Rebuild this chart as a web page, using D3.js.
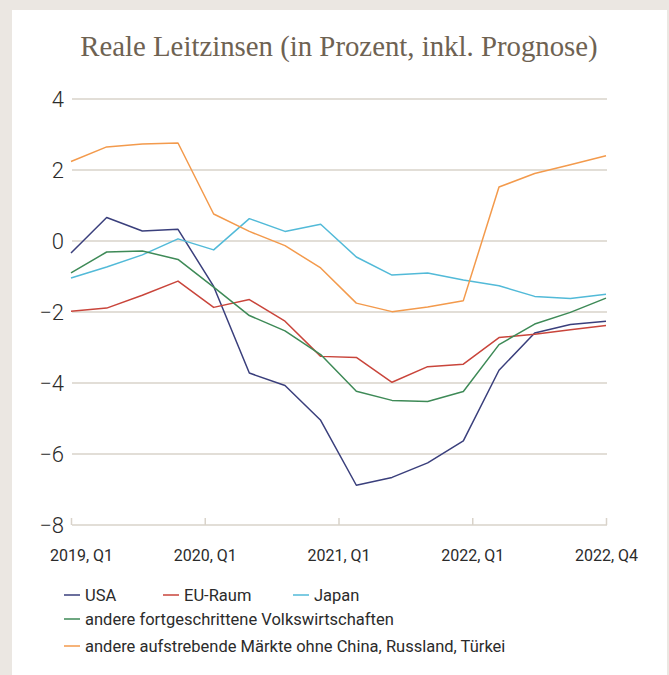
<!DOCTYPE html>
<html>
<head>
<meta charset="utf-8">
<script src="https://cdn.jsdelivr.net/npm/d3@7"></script>
<style>
  body { margin: 0; background: #ebe7e2; }
  svg { display: block; }
</style>
</head>
<body>
<svg id="chart" width="669" height="675"></svg>
<script>
// quarterly values, 2019 Q1 .. 2022 Q4
const quarters = d3.range(16);
const usa     = [-0.34, 0.66, 0.28, 0.33, -1.28, -3.72, -4.07, -5.05, -6.88, -6.66, -6.25, -5.63, -3.64, -2.59, -2.35, -2.26];
const euRaum  = [-1.98, -1.89, -1.53, -1.13, -1.87, -1.65, -2.26, -3.25, -3.28, -3.98, -3.54, -3.47, -2.72, -2.63, -2.50, -2.38];
const japan   = [-1.04, -0.73, -0.39, 0.06, -0.25, 0.63, 0.27, 0.47, -0.45, -0.96, -0.90, -1.10, -1.26, -1.56, -1.62, -1.50];
const andereFort = [-0.90, -0.31, -0.28, -0.52, -1.30, -2.10, -2.53, -3.20, -4.23, -4.49, -4.52, -4.24, -2.92, -2.34, -2.01, -1.61];
const andereAufstr = [2.24, 2.65, 2.73, 2.76, 0.76, 0.27, -0.13, -0.76, -1.75, -1.99, -1.86, -1.68, 1.52, 1.90, 2.15, 2.40];

const xTickPos = [0, 3.75, 7.5, 11.25, 15];
const xTickLabels = ["2019, Q1", "2020, Q1", "2021, Q1", "2022, Q1", "2022, Q4"];
const yTicks = [-8, -6, -4, -2, 0, 2, 4];

const series = [
  { name: "USA", values: usa, color: "#3a3f7c" },
  { name: "EU-Raum", values: euRaum, color: "#c9453b" },
  { name: "Japan", values: japan, color: "#52bad8" },
  { name: "andere fortgeschrittene Volkswirtschaften", values: andereFort, color: "#3e8a57" },
  { name: "andere aufstrebende Märkte ohne China, Russland, Türkei", values: andereAufstr, color: "#f39a4c" }
];

const svg = d3.select("#chart");

// white card
svg.append("rect")
  .attr("x", 12).attr("y", 10)
  .attr("width", 655).attr("height", 670)
  .attr("fill", "#fff");

svg.append("text")
  .attr("x", 339).attr("y", 56)
  .attr("text-anchor", "middle")
  .style("font-family", "'Liberation Serif', serif")
  .style("font-size", "28.8px")
  .attr("fill", "#6e6252")
  .text("Reale Leitzinsen (in Prozent, inkl. Prognose)");

const x = d3.scaleLinear().domain([0, 15]).range([71, 606]);
const y = d3.scaleLinear().domain([-8, 4]).range([525, 99]);

// gridlines
svg.append("g")
  .selectAll("line")
  .data(yTicks)
  .join("line")
  .attr("x1", 72).attr("x2", 607)
  .attr("y1", d => y(d)).attr("y2", d => y(d))
  .attr("stroke", "#d9d3ca")
  .attr("stroke-width", 1.5);

// y labels
svg.append("g")
  .selectAll("text")
  .data(yTicks)
  .join("text")
  .attr("x", 64)
  .attr("y", d => y(d))
  .attr("dy", "0.36em")
  .attr("text-anchor", "end")
  .style("font-family", "Roboto, sans-serif")
  .style("font-size", "22px")
  .style("font-weight", 300)
  .attr("fill", "#2b2b2b")
  .text(d => d < 0 ? "\u2212" + Math.abs(d) : d);

// x axis
const xAxis = svg.append("g")
  .attr("transform", `translate(0, ${y(-8)})`)
  .call(d3.axisBottom(x)
    .tickValues(xTickPos)
    .tickFormat((d, i) => xTickLabels[i])
    .tickSize(-7)
    .tickPadding(25));
xAxis.select(".domain").remove();
xAxis.selectAll(".tick line").attr("stroke", "#d9d3ca").attr("stroke-width", 1.5);
xAxis.selectAll(".tick text")
  .style("font-family", "Roboto, sans-serif")
  .style("font-size", "16px")
  .attr("fill", "#2b2b2b")
  .attr("dx", (d, i) => i === 0 ? 10 : 0);

// lines
const line = d3.line()
  .x((d, i) => x(quarters[i]))
  .y(d => y(d));

svg.append("g")
  .selectAll("path")
  .data(series)
  .join("path")
  .attr("d", d => line(d.values))
  .attr("fill", "none")
  .attr("stroke", d => d.color)
  .attr("stroke-width", 1.5)
  .attr("stroke-linejoin", "round");

// legend
const legendPos = [
  { x: 64, y: 595 },
  { x: 163, y: 595 },
  { x: 293, y: 595 },
  { x: 64, y: 619 },
  { x: 64, y: 646 }
];
const legend = svg.append("g")
  .selectAll("g")
  .data(series)
  .join("g")
  .attr("transform", (d, i) => `translate(${legendPos[i].x}, ${legendPos[i].y})`);
legend.append("line")
  .attr("x1", 0).attr("x2", 16)
  .attr("stroke", d => d.color)
  .attr("stroke-width", 1.5);
legend.append("text")
  .attr("x", 21)
  .attr("dy", "0.35em")
  .style("font-family", "Roboto, sans-serif")
  .style("font-size", "16.5px")
  .attr("fill", "#2b2b2b")
  .text(d => d.name);
</script>
</body>
</html>
